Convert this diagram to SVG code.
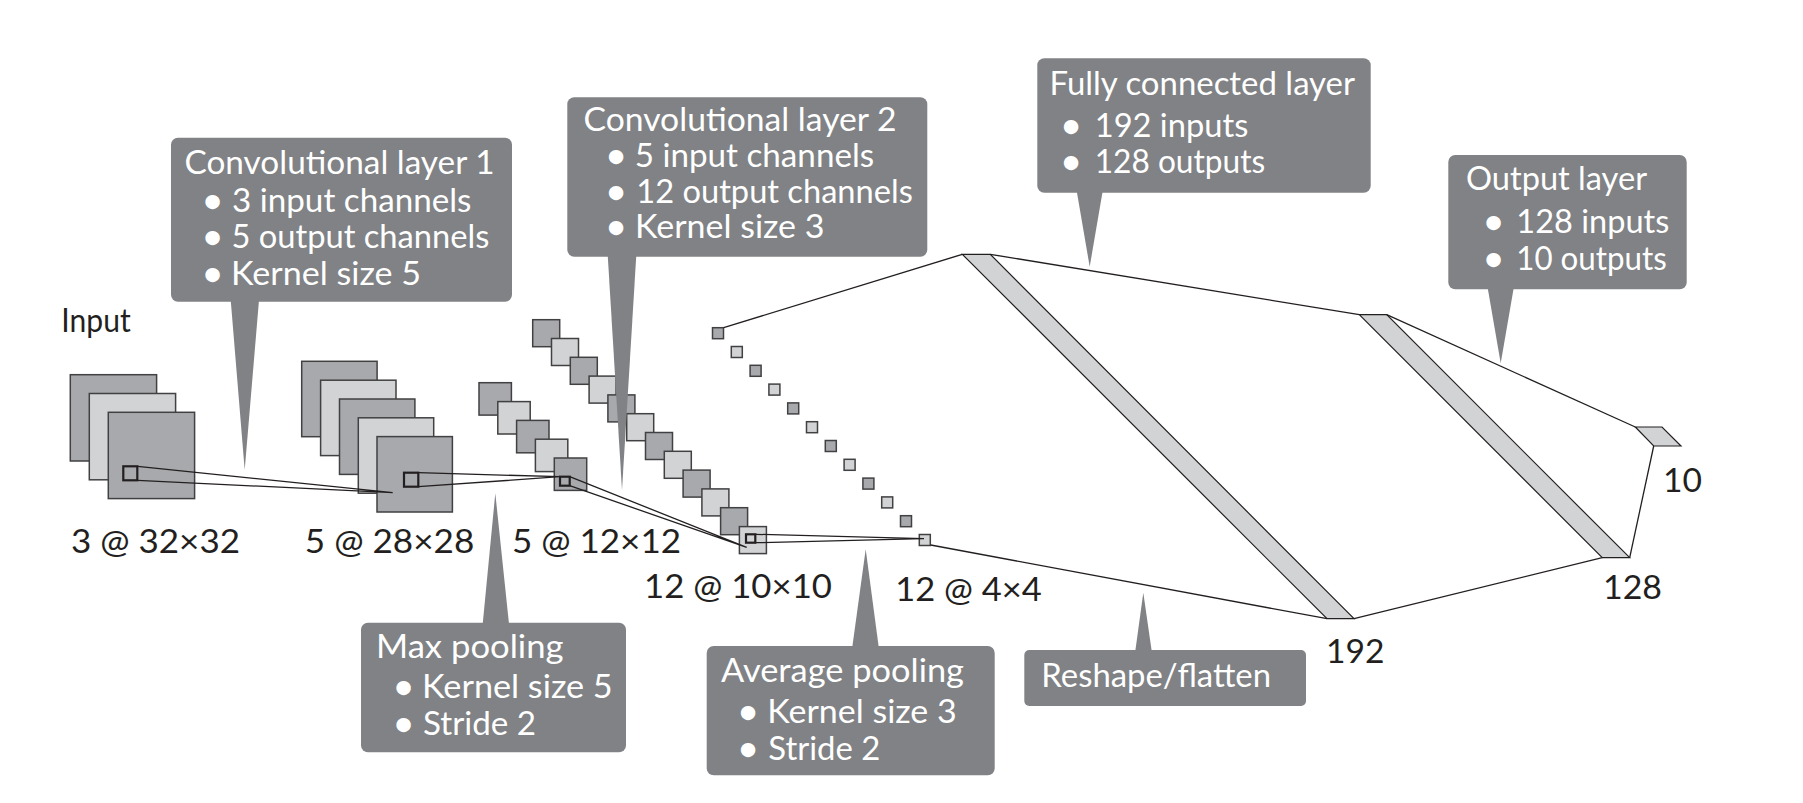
<svg xmlns="http://www.w3.org/2000/svg" width="1803" height="803" viewBox="0 0 1803 803">
<style>
.d{fill:#a7a9ac;stroke:#414042;stroke-width:1.5}
.l{fill:#d1d3d4;stroke:#414042;stroke-width:1.5}
.k{fill:none;stroke:#231f20;stroke-width:2.2}
.c{fill:none;stroke:#231f20;stroke-width:1.3}
.b{fill:#d1d3d4;stroke:#231f20;stroke-width:1.2}
.g{fill:#808285}
text{font-family:Lato,"Open Sans","Liberation Sans",sans-serif;font-weight:400;font-size:33px}
.w{fill:#fff}
.t{fill:#231f20}
.o{font-weight:700}
</style>
<rect width="1803" height="803" fill="#fff"/>
<g id="input-layer">
<rect class="d" x="70.3" y="374.7" width="86.3" height="86.3"/>
<rect class="l" x="89.3" y="393.5" width="86.3" height="86.3"/>
<rect class="d" x="108.3" y="412.3" width="86.3" height="86.3"/>
<rect class="k" x="123.3" y="466.3" width="14" height="14"/>
</g>
<g id="conv1-layer">
<rect class="d" x="301.7" y="361.3" width="75.4" height="75.4"/>
<rect class="l" x="320.6" y="380.2" width="75.4" height="75.4"/>
<rect class="d" x="339.5" y="399" width="75.4" height="75.4"/>
<rect class="l" x="358.3" y="417.8" width="75.4" height="75.4"/>
<rect class="d" x="377" y="436.6" width="75.4" height="75.4"/>
<rect class="k" x="404" y="472.7" width="14.3" height="14"/>
</g>
<g id="pool1-layer">
<rect class="d" x="479" y="382.7" width="32.4" height="32.4"/>
<rect class="l" x="497.8" y="401.6" width="32.4" height="32.4"/>
<rect class="d" x="516.6" y="420.4" width="32.4" height="32.4"/>
<rect class="l" x="535.4" y="439.2" width="32.4" height="32.4"/>
<rect class="d" x="554.3" y="458" width="32.4" height="32.4"/>
<rect class="k" x="560" y="476.7" width="9.7" height="9"/>
</g>
<g id="conv2-layer">
<rect class="d" x="532.7" y="319.7" width="27" height="27"/>
<rect class="l" x="551.5" y="338.5" width="27" height="27"/>
<rect class="d" x="570.3" y="357.3" width="27" height="27"/>
<rect class="l" x="589.1" y="376.1" width="27" height="27"/>
<rect class="d" x="607.9" y="394.9" width="27" height="27"/>
<rect class="l" x="626.7" y="413.7" width="27" height="27"/>
<rect class="d" x="645.5" y="432.5" width="27" height="27"/>
<rect class="l" x="664.3" y="451.3" width="27" height="27"/>
<rect class="d" x="683.1" y="470.1" width="27" height="27"/>
<rect class="l" x="701.9" y="488.9" width="27" height="27"/>
<rect class="d" x="720.6" y="507.7" width="27" height="27"/>
<rect class="l" x="739.4" y="526.6" width="27" height="27"/>
<rect class="k" x="746" y="534.3" width="9.3" height="8.4"/>
</g>
<g id="pool2-layer">
<rect class="d" x="712.5" y="327.7" width="11" height="11"/>
<rect class="l" x="731.3" y="346.5" width="11" height="11"/>
<rect class="d" x="750.1" y="365.3" width="11" height="11"/>
<rect class="l" x="768.9" y="384.1" width="11" height="11"/>
<rect class="d" x="787.7" y="402.9" width="11" height="11"/>
<rect class="l" x="806.5" y="421.7" width="11" height="11"/>
<rect class="d" x="825.3" y="440.5" width="11" height="11"/>
<rect class="l" x="844.1" y="459.3" width="11" height="11"/>
<rect class="d" x="862.9" y="478.1" width="11" height="11"/>
<rect class="l" x="881.7" y="496.9" width="11" height="11"/>
<rect class="d" x="900.5" y="515.7" width="11" height="11"/>
<rect class="l" x="919.3" y="534.5" width="11" height="11"/>
</g>
<g id="flatten-layer"><polygon class="b" points="962.3,254.3 990.3,254.3 1354,618.7 1327,618.7"/></g>
<g id="fc-layer"><polygon class="b" points="1359.3,314.7 1386.7,314.7 1629.7,557.7 1602.3,557.7"/></g>
<g id="output-layer"><polygon class="b" points="1635.3,427 1662,427 1681,446 1653.7,446"/></g>
<g id="connectors">
<path class="c" d="M137.7 466.3L392.7 492.7L137.7 480.3"/>
<path class="c" d="M418.3 472.7L560 476.7L418.3 486.7"/>
<path class="c" d="M569.7 476.7L746.7 547.3L569.7 485.7"/>
<path class="c" d="M755.3 534.3L924 538.7L755.3 542.7"/>
<path class="c" d="M723.7 327.7L962.3 254.3"/>
<path class="c" d="M930.7 545L1327 618.7"/>
<path class="c" d="M990.3 254.3L1359.3 314.7"/>
<path class="c" d="M1354 618.7L1602.3 557.7"/>
<path class="c" d="M1386.7 314.7L1635.3 427"/>
<path class="c" d="M1629.7 557.7L1653.7 446"/>
</g>
<g id="labels">
<text class="t" x="61.3" y="331.7" textLength="69.4" lengthAdjust="spacingAndGlyphs">Input</text>
<text class="t" x="71" y="553.3" textLength="169" lengthAdjust="spacingAndGlyphs">3 @ 32×32</text>
<text class="t" x="304.8" y="553.3" textLength="169.5" lengthAdjust="spacingAndGlyphs">5 @ 28×28</text>
<text class="t" x="512" y="553.3" textLength="169" lengthAdjust="spacingAndGlyphs">5 @ 12×12</text>
<text class="t" x="644" y="597.7" textLength="188" lengthAdjust="spacingAndGlyphs">12 @ 10×10</text>
<text class="t" x="895.3" y="600.7" textLength="146.5" lengthAdjust="spacingAndGlyphs">12 @ 4×4</text>
<text class="t" x="1326" y="663.3" textLength="58.5" lengthAdjust="spacingAndGlyphs">192</text>
<text class="t" x="1603" y="599.3" textLength="59" lengthAdjust="spacingAndGlyphs">128</text>
<text class="t" x="1663" y="491.7" textLength="39" lengthAdjust="spacingAndGlyphs">10</text>
</g>
<g id="callout-conv1">
<polygon class="g" points="230.7,300 259,300 244.7,470"/>
<rect class="g" x="171" y="137.7" width="341" height="164" rx="7"/>
<text class="w" x="184.5" y="173.5" textLength="310" lengthAdjust="spacingAndGlyphs">Convolutional layer 1</text>
<text class="w" y="211.7"><tspan class="o" x="203">•</tspan> <tspan x="232" textLength="239.5" lengthAdjust="spacingAndGlyphs">3 input channels</tspan></text>
<text class="w" y="248.3"><tspan class="o" x="203">•</tspan> <tspan x="231.4" textLength="258" lengthAdjust="spacingAndGlyphs">5 output channels</tspan></text>
<text class="w" y="285"><tspan class="o" x="203">•</tspan> <tspan x="231" textLength="190" lengthAdjust="spacingAndGlyphs">Kernel size 5</tspan></text>
</g>
<g id="callout-conv2">
<polygon class="g" points="607.7,255 636.3,255 622,490"/>
<rect class="g" x="567.3" y="97.3" width="360" height="159.4" rx="7"/>
<text class="w" x="583.5" y="130.7" textLength="313" lengthAdjust="spacingAndGlyphs">Convolutional layer 2</text>
<text class="w" y="167.3"><tspan class="o" x="606.5">•</tspan> <tspan x="634.7" textLength="239.5" lengthAdjust="spacingAndGlyphs">5 input channels</tspan></text>
<text class="w" y="203.3"><tspan class="o" x="606.5">•</tspan> <tspan x="636.3" textLength="276.5" lengthAdjust="spacingAndGlyphs">12 output channels</tspan></text>
<text class="w" y="238.3"><tspan class="o" x="606.5">•</tspan> <tspan x="635" textLength="189.5" lengthAdjust="spacingAndGlyphs">Kernel size 3</tspan></text>
</g>
<g id="callout-fc">
<polygon class="g" points="1076.7,191 1102.7,191 1089.7,266.7"/>
<rect class="g" x="1037.3" y="58.3" width="333.4" height="134.4" rx="7"/>
<text class="w" x="1049.5" y="95" textLength="305.5" lengthAdjust="spacingAndGlyphs">Fully connected layer</text>
<text class="w" y="136.7"><tspan class="o" x="1061.5">•</tspan> <tspan x="1094.7" textLength="153.6" lengthAdjust="spacingAndGlyphs">192 inputs</tspan></text>
<text class="w" y="173.3"><tspan class="o" x="1061.5">•</tspan> <tspan x="1094.7" textLength="170.6" lengthAdjust="spacingAndGlyphs">128 outputs</tspan></text>
</g>
<g id="callout-output">
<polygon class="g" points="1487.7,288 1513.7,288 1500.7,363.3"/>
<rect class="g" x="1448.3" y="155" width="238.4" height="134.3" rx="7"/>
<text class="w" x="1466" y="190" textLength="181" lengthAdjust="spacingAndGlyphs">Output layer</text>
<text class="w" y="233.3"><tspan class="o" x="1484">•</tspan> <tspan x="1516.3" textLength="153" lengthAdjust="spacingAndGlyphs">128 inputs</tspan></text>
<text class="w" y="270"><tspan class="o" x="1484">•</tspan> <tspan x="1516.3" textLength="150.4" lengthAdjust="spacingAndGlyphs">10 outputs</tspan></text>
</g>
<g id="callout-maxpool">
<polygon class="g" points="482.7,624 509,624 495.3,493.3"/>
<rect class="g" x="361" y="622.7" width="265" height="129.6" rx="7"/>
<text class="w" x="376" y="658.3" textLength="187.5" lengthAdjust="spacingAndGlyphs">Max pooling</text>
<text class="w" y="698.3"><tspan class="o" x="394">•</tspan> <tspan x="422" textLength="190.7" lengthAdjust="spacingAndGlyphs">Kernel size 5</tspan></text>
<text class="w" y="735"><tspan class="o" x="394">•</tspan> <tspan x="423" textLength="113" lengthAdjust="spacingAndGlyphs">Stride 2</tspan></text>
</g>
<g id="callout-avgpool">
<polygon class="g" points="852.3,647 878.7,647 865.7,549.3"/>
<rect class="g" x="706.7" y="646" width="288" height="129.3" rx="7"/>
<text class="w" x="721" y="681.7" textLength="243" lengthAdjust="spacingAndGlyphs">Average pooling</text>
<text class="w" y="722.7"><tspan class="o" x="738.5">•</tspan> <tspan x="767.3" textLength="189.4" lengthAdjust="spacingAndGlyphs">Kernel size 3</tspan></text>
<text class="w" y="760"><tspan class="o" x="738.5">•</tspan> <tspan x="768.3" textLength="112" lengthAdjust="spacingAndGlyphs">Stride 2</tspan></text>
</g>
<g id="callout-reshape">
<polygon class="g" points="1135.3,651 1151.7,651 1143.3,592.7"/>
<rect class="g" x="1024.3" y="650" width="281.7" height="56" rx="5"/>
<text class="w" x="1041.3" y="687.3" textLength="229.7" lengthAdjust="spacingAndGlyphs">Reshape/flatten</text>
</g>
</svg>
